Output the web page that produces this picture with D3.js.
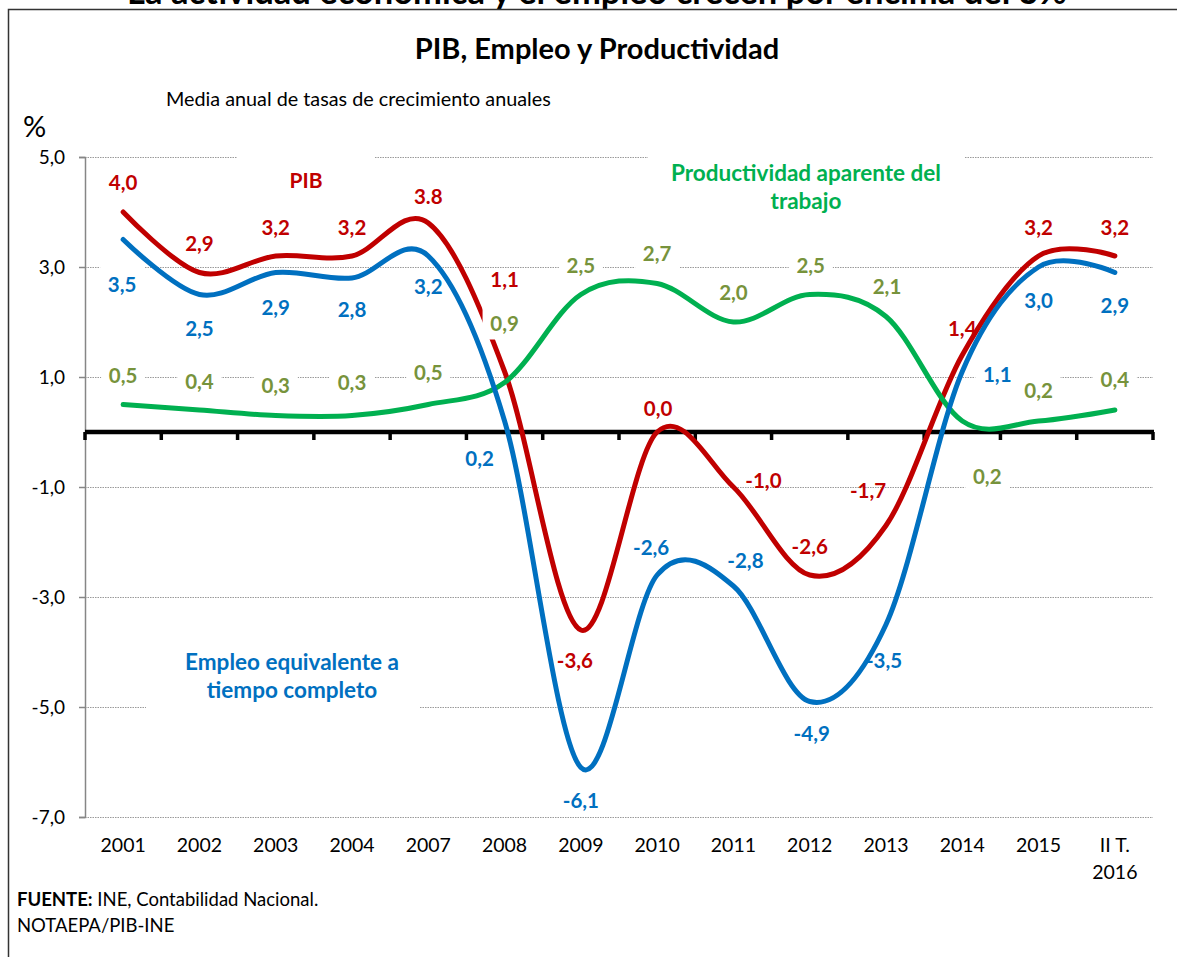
<!DOCTYPE html>
<html><head><meta charset="utf-8">
<script src="https://cdn.jsdelivr.net/npm/d3@7"></script>
<style>body{margin:0;background:#fff} svg{display:block} text{font-family:Lato,'Open Sans',sans-serif}</style>
</head><body><svg id="c" width="1177" height="957"></svg>
<script>
// ---- data ----
const categories = ["2001","2002","2003","2004","2007","2008","2009","2010","2011","2012","2013","2014","2015","II T.|2016"];
const pib            = [4.0, 2.9, 3.2, 3.2, 3.8, 1.1, -3.6, 0.0, -1.0, -2.6, -1.7, 1.4, 3.2, 3.2];
const empleo         = [3.5, 2.5, 2.9, 2.8, 3.2, 0.2, -6.1, -2.6, -2.8, -4.9, -3.5, 1.1, 3.0, 2.9];
const productividad  = [0.5, 0.4, 0.3, 0.3, 0.5, 0.9, 2.5, 2.7, 2.0, 2.5, 2.1, 0.2, 0.2, 0.4];
const yTicks = [-7, -5, -3, -1, 1, 3, 5];
const pibDotLabels = [4]; // label printed with "." in the original

// label offsets (px, relative to the data point)
const pibDx  = [0,0,0,0,0,0,-6,1,30,0,-18,0,0,0];
const pibDy  = [-30,-29.5,-29,-29,-27,-92.5,30,-24,-7,-29,-36,-27,-29,-29];
const empDx  = [-1,0,0,0,0,-25,0,-6,12,2,-2,35,0,0];
const empDy  = [44,33,34.5,31,30,37,32.5,-28,-26,31.5,35,2,33,32.5];
const proDx  = [0,0,0,0,0,0,0,0,0,1,1,25,0,0];
const proDy  = [-30,-29,-30.5,-33.5,-33,-60,-30,-30.5,-30,-30,-31,55,-31,-31];

const RED = "#c00000", BLUE = "#0070c0", GREEN = "#00b050", OLIVE = "#77933c";

const svg = d3.select("#c");
const W = 1177, H = 957;
const x0 = 85, x1 = 1153;

const x = d3.scalePoint().domain(categories).range([x0, x1]).padding(0.5);
const xb = d3.scaleBand().domain(categories).range([x0, x1]);
const y = d3.scaleLinear().domain([-7, 5]).range([817, 157]);
const fmt = (v, i, dots) => {
  const s = d3.format(".1f")(v).replace("\u2212", "-");
  return (dots && dots.includes(i)) ? s : s.replace(".", ",");
};

// frame + clipped top title
svg.append("text").attr("x", 597).attr("y", 4).attr("text-anchor", "middle")
  .attr("font-size", 34.5).attr("font-weight", 700).attr("fill", "#000")
  .text("La actividad económica y el empleo crecen por encima del 3%");
svg.append("rect").attr("x", 0).attr("y", 9).attr("width", W).attr("height", H).attr("fill", "#fff");
svg.append("path").attr("d", `M8.5,${H + 5}V9.5H${W + 5}`).attr("fill", "none").attr("stroke", "#333").attr("stroke-width", 1.5);

// titles
svg.append("text").attr("x", 597).attr("y", 59).attr("text-anchor", "middle")
  .attr("font-size", 29).attr("font-weight", 700).text("PIB, Empleo y Productividad");
svg.append("text").attr("x", 166).attr("y", 106).attr("font-size", 19.8).text("Media anual de tasas de crecimiento anuales");
svg.append("text").attr("x", 23).attr("y", 137).attr("font-size", 29).text("%");

// gridlines
svg.append("g").selectAll("line").data(yTicks).join("line")
  .attr("x1", x0).attr("x2", x1).attr("y1", d => y(d) + 0.5).attr("y2", d => y(d) + 0.5)
  .attr("stroke", "#9a9a9a").attr("stroke-width", 1).attr("stroke-dasharray", "1.5,1");

// white boxes of annotation text frames
const annBoxes = [[237, 148, 138, 52], [648, 148, 317, 68], [146, 640, 274, 74]];
svg.append("g").selectAll("rect").data(annBoxes).join("rect")
  .attr("x", d => d[0]).attr("y", d => d[1]).attr("width", d => d[2]).attr("height", d => d[3]).attr("fill", "#fff");

// y axis
const yAxis = svg.append("g").attr("transform", `translate(${x0},0)`)
  .call(d3.axisLeft(y).tickValues(yTicks).tickSize(6).tickPadding(14).tickFormat(d => fmt(d)));
yAxis.select(".domain").attr("stroke", "#868686").attr("stroke-width", 1.5);
yAxis.selectAll(".tick line").attr("stroke", "#868686").attr("stroke-width", 1.5);
yAxis.selectAll(".tick text").attr("font-size", 19).attr("fill", "#000").attr("font-family", "Lato");

// zero line with category ticks
svg.append("line").attr("x1", x0).attr("x2", x1 + 1).attr("y1", y(0)).attr("y2", y(0))
  .attr("stroke", "#000").attr("stroke-width", 4.5);
const bounds = categories.map(c => xb(c)).concat([x1]);
svg.append("g").selectAll("line").data(bounds).join("line")
  .attr("x1", d => d).attr("x2", d => d).attr("y1", y(0)).attr("y2", y(0) + 8)
  .attr("stroke", "#000").attr("stroke-width", 3.5);

// category labels
const xl = svg.append("g").selectAll("text").data(categories).join("text")
  .attr("x", d => x(d)).attr("y", 852).attr("text-anchor", "middle").attr("font-size", 19.5);
xl.each(function(d) {
  const parts = d.split("|");
  d3.select(this).selectAll("tspan").data(parts).join("tspan")
    .attr("x", x(d)).attr("dy", (p, i) => i === 0 ? 0 : 27).text(p => p);
});

const line = d3.line().x((d, i) => x(categories[i])).y(d => y(d)).curve(d3.curveCardinal.tension(0));
const drawLine = (vals, color) => svg.append("path").datum(vals).attr("d", line)
  .attr("fill", "none").attr("stroke", color).attr("stroke-width", 5).attr("stroke-linecap", "round");

// PIB line
drawLine(pib, RED);

// white boxes behind productividad and empleo labels
const boxes = [];
productividad.forEach((v, i) => boxes.push([x(categories[i]) + proDx[i], y(v) + proDy[i]]));
empleo.forEach((v, i) => boxes.push([x(categories[i]) + empDx[i], y(v) + empDy[i]]));
svg.append("g").selectAll("rect").data(boxes).join("rect")
  .attr("x", d => d[0] - 22).attr("y", d => d[1] - 17).attr("width", 44).attr("height", 34).attr("fill", "#fff");

drawLine(productividad, GREEN);
drawLine(empleo, BLUE);

// data labels
const drawLabels = (vals, dx, dy, color, dots) => svg.append("g").selectAll("text").data(vals).join("text")
  .attr("x", (v, i) => x(categories[i]) + dx[i]).attr("y", (v, i) => y(v) + dy[i])
  .attr("text-anchor", "middle").attr("dominant-baseline", "central")
  .attr("font-size", 20.5).attr("font-weight", 700).attr("fill", color)
  .text((v, i) => fmt(v, i, dots));
drawLabels(productividad, proDx, proDy, OLIVE);
drawLabels(empleo, empDx, empDy, BLUE);
drawLabels(pib, pibDx, pibDy, RED, pibDotLabels);

// series annotations
svg.append("text").attr("x", 306).attr("y", 188).attr("text-anchor", "middle")
  .attr("font-size", 21).attr("font-weight", 700).attr("fill", RED).text("PIB");
const prodAnn = svg.append("text").attr("text-anchor", "middle").attr("font-size", 22.5).attr("font-weight", 700).attr("fill", GREEN);
["Productividad aparente del", "trabajo"].forEach((t, i) =>
  prodAnn.append("tspan").attr("x", 806).attr("y", 181 + i * 28).text(t));
const empAnn = svg.append("text").attr("text-anchor", "middle").attr("font-size", 22.5).attr("font-weight", 700).attr("fill", BLUE);
["Empleo equivalente a", "tiempo completo"].forEach((t, i) =>
  empAnn.append("tspan").attr("x", 292).attr("y", 670 + i * 28).text(t));

// source
const src = svg.append("text").attr("x", 17).attr("y", 906).attr("font-size", 18.5);
src.append("tspan").attr("font-weight", 700).text("FUENTE:");
src.append("tspan").text(" INE, Contabilidad Nacional.");
svg.append("text").attr("x", 17).attr("y", 932).attr("font-size", 18.5).text("NOTAEPA/PIB-INE");
</script></body></html>
